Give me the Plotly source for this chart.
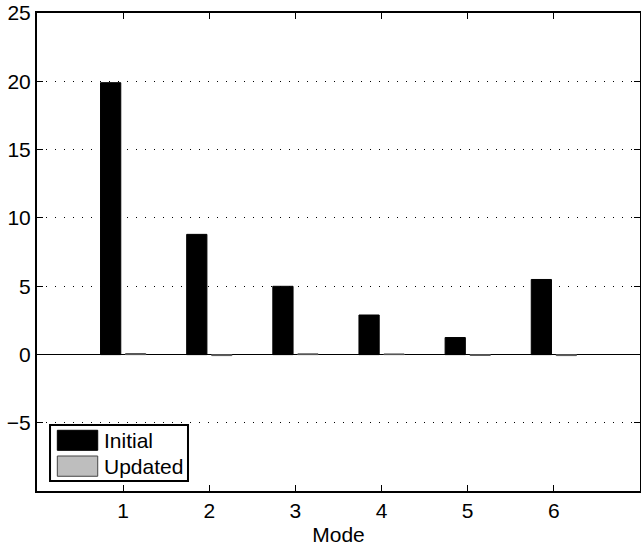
import plotly.graph_objects as go

modes = [1, 2, 3, 4, 5, 6]
initial = [19.9, 8.8, 5.0, 2.9, 1.25, 5.5]
updated = [0.08, -0.07, 0.06, 0.05, -0.06, -0.07]
series_names = ["Initial", "Updated"]
y_ticks = [-5, 0, 5, 10, 15, 20, 25]

FONT = "Liberation Sans, Arial, Helvetica, sans-serif"
FS = 21

fig = go.Figure()
fig.add_trace(go.Bar(x=modes, y=initial, name=series_names[0],
                     marker=dict(color="black", line=dict(color="black", width=1)),
                     showlegend=False))
fig.add_trace(go.Bar(x=modes, y=updated, name=series_names[1],
                     marker=dict(color="#bebebe", line=dict(color="#555555", width=1)),
                     showlegend=False))

# custom legend (MATLAB style)
shapes = [
    dict(type="rect", xref="paper", yref="paper", x0=0.0216, x1=0.2504, y0=0.021, y1=0.138,
         line=dict(color="black", width=2), fillcolor="white", layer="above"),
    dict(type="rect", xref="paper", yref="paper", x0=0.0337, x1=0.1007, y0=0.0851, y1=0.127,
         line=dict(color="black", width=1), fillcolor="black", layer="above"),
    dict(type="rect", xref="paper", yref="paper", x0=0.0337, x1=0.1007, y0=0.0308, y1=0.0732,
         line=dict(color="#444444", width=1), fillcolor="#bebebe", layer="above"),
]
annotations = [
    dict(xref="paper", yref="paper", x=0.1083, y=0.106, text=series_names[0], showarrow=False,
         xanchor="left", yanchor="middle", font=dict(family=FONT, size=FS, color="black")),
    dict(xref="paper", yref="paper", x=0.1083, y=0.0517, text=series_names[1], showarrow=False,
         xanchor="left", yanchor="middle", font=dict(family=FONT, size=FS, color="black")),
]

fig.update_layout(
    width=641, height=547,
    margin=dict(l=37, r=1, t=13, b=56),
    paper_bgcolor="white", plot_bgcolor="white",
    barmode="group", bargap=0.42, bargroupgap=0.19,
    font=dict(family=FONT, size=FS, color="black"),
    shapes=shapes, annotations=annotations,
    xaxis=dict(range=[0, 7], tickvals=modes, ticktext=[str(m) for m in modes],
               ticks="inside", ticklen=6, tickwidth=1, tickcolor="black",
               showline=True, linecolor="black", linewidth=2, mirror="ticks",
               showgrid=False, zeroline=False, automargin=False,
               tickfont=dict(size=FS), ticklabelstandoff=0,
               title=dict(text="Mode", standoff=6, font=dict(size=FS))),
    yaxis=dict(range=[-9.98, 25], tickvals=y_ticks,
               ticktext=["\u22125" if v < 0 else str(v) for v in y_ticks],
               ticks="inside", ticklen=6, tickwidth=1, tickcolor="black",
               showline=True, linecolor="black", linewidth=2, mirror="ticks",
               showgrid=True, gridcolor="black", gridwidth=1, griddash="1px,8px",
               zeroline=True, zerolinecolor="black", zerolinewidth=1,
               automargin=False, tickfont=dict(size=FS), ticklabelstandoff=0),
)

fig.write_html("out.html", config={"displayModeBar": False},
               post_script="document.body.style.margin='0';")
